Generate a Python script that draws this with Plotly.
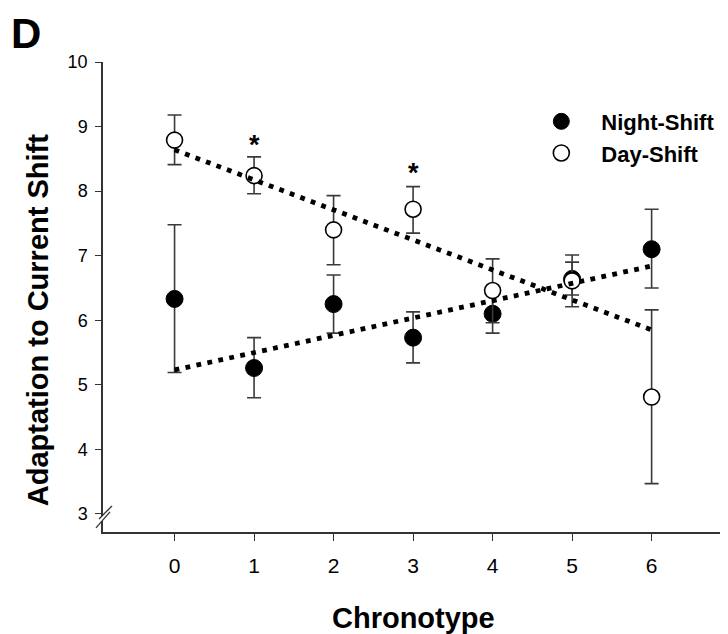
import plotly.graph_objects as go

# ---- data ----
chronotype = [0, 1, 2, 3, 4, 5, 6]

night_mean = [6.33, 5.26, 6.25, 5.73, 6.10, 6.64, 7.10]
night_err_plus = [1.15, 0.47, 0.45, 0.40, 0.30, 0.26, 0.62]
night_err_minus = [1.14, 0.46, 0.45, 0.39, 0.30, 0.25, 0.60]

day_mean = [8.79, 8.24, 7.40, 7.72, 6.46, 6.61, 4.81]
day_err_plus = [0.39, 0.29, 0.53, 0.35, 0.49, 0.40, 1.35]
day_err_minus = [0.38, 0.28, 0.54, 0.37, 0.50, 0.40, 1.34]

# fitted regression lines (endpoints at chronotype 0 and 6)
fit_x = [0, 6]
night_fit = [5.23, 6.84]
day_fit = [8.64, 5.85]

# significance markers
sig_x = [1, 3]
sig_y = [8.81, 8.37]

x_ticks = [0, 1, 2, 3, 4, 5, 6]
y_ticks = [3, 4, 5, 6, 7, 8, 9, 10]
x_range = [-0.9, 6.86]
y_range = [2.72, 10]

FONT = "Liberation Sans, Arial, sans-serif"
AXC = "#333333"
ERRC = "#3a3a3a"

fig = go.Figure()

fig.add_trace(go.Scatter(
    x=chronotype, y=night_mean, mode="markers", name="Night-Shift",
    marker=dict(size=17, color="black", line=dict(color="black", width=1)),
    error_y=dict(type="data", symmetric=False, array=night_err_plus,
                 arrayminus=night_err_minus, color=ERRC, thickness=1.6, width=7),
))
fig.add_trace(go.Scatter(
    x=chronotype, y=day_mean, mode="markers", name="Day-Shift",
    marker=dict(size=16, color="white", line=dict(color="black", width=1.6)),
    error_y=dict(type="data", symmetric=False, array=day_err_plus,
                 arrayminus=day_err_minus, color=ERRC, thickness=1.6, width=7),
))
for yy in (night_fit, day_fit):
    fig.add_trace(go.Scatter(
        x=fit_x, y=yy, mode="lines", showlegend=False, hoverinfo="skip",
        line=dict(color="black", width=4.8, dash="4.8px,6.4px"),
    ))

annotations = []
for sx, sy in zip(sig_x, sig_y):
    annotations.append(dict(x=sx, y=sy, xref="x", yref="y", text="<b>*</b>",
                            showarrow=False, yshift=-6,
                            font=dict(family=FONT, size=27, color="black")))
annotations.append(dict(x=-0.152, y=1.06, xref="paper", yref="paper", text="<b>D</b>",
                        showarrow=False, xanchor="left", yanchor="middle",
                        font=dict(family=FONT, size=42, color="black")))
annotations.append(dict(x=-0.105, y=0.451, xref="paper", yref="paper",
                        text="<b>Adaptation to Current Shift</b>", textangle=-90,
                        showarrow=False, xanchor="center", yanchor="middle",
                        font=dict(family=FONT, size=29, color="black")))
annotations.append(dict(x=0.503, y=-0.183, xref="paper", yref="paper",
                        text="<b>Chronotype</b>",
                        showarrow=False, xanchor="center", yanchor="middle",
                        font=dict(family=FONT, size=29, color="black")))

# axis break marks on y axis
y_anchor = (3 - y_range[0]) / (y_range[1] - y_range[0])
brk = dict(type="path", xref="paper", yref="paper", xsizemode="pixel", ysizemode="pixel",
           xanchor=0, yanchor=y_anchor, layer="above")
shapes = [
    dict(brk, path="M -4,-5 L 9,8 L 7,2 L -7,-14 Z", fillcolor="white",
         line=dict(width=0, color="white")),
    dict(brk, path="M -4,-5 L 9,8", line=dict(color=AXC, width=1.3)),
    dict(brk, path="M -7,-14 L 7,2", line=dict(color=AXC, width=1.3)),
]

fig.update_layout(
    width=728, height=634,
    margin=dict(l=103, r=8, t=62, b=102),
    paper_bgcolor="white", plot_bgcolor="white",
    font=dict(family=FONT, color="black"),
    showlegend=True,
    legend=dict(x=0.678, y=0.918, xanchor="left", yanchor="top",
                font=dict(family=FONT, size=22, color="black", weight="bold"),
                itemwidth=70, bgcolor="rgba(0,0,0,0)", tracegroupgap=0),
    annotations=annotations,
    shapes=shapes,
    xaxis=dict(range=x_range, tickvals=x_ticks, ticks="outside", ticklen=7,
               tickwidth=1.3, tickcolor=AXC, showline=True, linecolor=AXC,
               linewidth=1.5, showgrid=False, zeroline=False, ticklabelstandoff=7,
               tickfont=dict(family=FONT, size=21, color="black")),
    yaxis=dict(range=y_range, tickvals=y_ticks, ticks="outside", ticklen=6,
               tickwidth=1.3, tickcolor=AXC, showline=True, linecolor=AXC,
               linewidth=1.5, showgrid=False, zeroline=False, ticklabelstandoff=4,
               tickfont=dict(family=FONT, size=18, color="black")),
)

fig.write_html("out.html")
